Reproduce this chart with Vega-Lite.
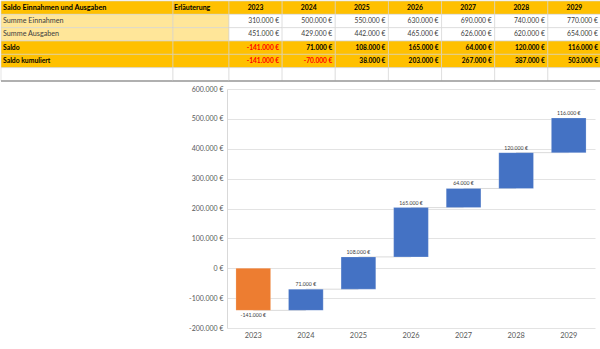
{
  "$schema": "https://vega.github.io/schema/vega-lite/v6.json",
  "padding": 0,
  "background": "white",
  "config": {
    "font": "Lato",
    "view": {"stroke": null},
    "locale": {"number": {"decimal": ",", "thousands": ".", "grouping": [3], "currency": ["", " €"], "minus": "-"}}
  },
  "datasets": {
    "rows": [
      {"row": "h", "label": "Saldo Einnahmen und Ausgaben", "erl": "Erläuterung"},
      {"row": "Summe Einnahmen", "label": "Summe Einnahmen", "erl": ""},
      {"row": "Summe Ausgaben", "label": "Summe Ausgaben", "erl": ""},
      {"row": "Saldo", "label": "Saldo", "erl": ""},
      {"row": "Saldo kumuliert", "label": "Saldo kumuliert", "erl": ""},
      {"row": "b", "label": "", "erl": ""}
    ],
    "cells": [
      {"year": "2023", "row": "h"}, {"year": "2023", "row": "Summe Einnahmen", "value": 310000}, {"year": "2023", "row": "Summe Ausgaben", "value": 451000}, {"year": "2023", "row": "Saldo", "value": -141000}, {"year": "2023", "row": "Saldo kumuliert", "value": -141000}, {"year": "2023", "row": "b"},
      {"year": "2024", "row": "h"}, {"year": "2024", "row": "Summe Einnahmen", "value": 500000}, {"year": "2024", "row": "Summe Ausgaben", "value": 429000}, {"year": "2024", "row": "Saldo", "value": 71000}, {"year": "2024", "row": "Saldo kumuliert", "value": -70000}, {"year": "2024", "row": "b"},
      {"year": "2025", "row": "h"}, {"year": "2025", "row": "Summe Einnahmen", "value": 550000}, {"year": "2025", "row": "Summe Ausgaben", "value": 442000}, {"year": "2025", "row": "Saldo", "value": 108000}, {"year": "2025", "row": "Saldo kumuliert", "value": 38000}, {"year": "2025", "row": "b"},
      {"year": "2026", "row": "h"}, {"year": "2026", "row": "Summe Einnahmen", "value": 630000}, {"year": "2026", "row": "Summe Ausgaben", "value": 465000}, {"year": "2026", "row": "Saldo", "value": 165000}, {"year": "2026", "row": "Saldo kumuliert", "value": 203000}, {"year": "2026", "row": "b"},
      {"year": "2027", "row": "h"}, {"year": "2027", "row": "Summe Einnahmen", "value": 690000}, {"year": "2027", "row": "Summe Ausgaben", "value": 626000}, {"year": "2027", "row": "Saldo", "value": 64000}, {"year": "2027", "row": "Saldo kumuliert", "value": 267000}, {"year": "2027", "row": "b"},
      {"year": "2028", "row": "h"}, {"year": "2028", "row": "Summe Einnahmen", "value": 740000}, {"year": "2028", "row": "Summe Ausgaben", "value": 620000}, {"year": "2028", "row": "Saldo", "value": 120000}, {"year": "2028", "row": "Saldo kumuliert", "value": 387000}, {"year": "2028", "row": "b"},
      {"year": "2029", "row": "h"}, {"year": "2029", "row": "Summe Einnahmen", "value": 770000}, {"year": "2029", "row": "Summe Ausgaben", "value": 654000}, {"year": "2029", "row": "Saldo", "value": 116000}, {"year": "2029", "row": "Saldo kumuliert", "value": 503000}, {"year": "2029", "row": "b"}
    ],
    "wf": [
      {"year": "2023", "start": 0, "end": -141000, "delta": -141000, "next": "2024"},
      {"year": "2024", "start": -141000, "end": -70000, "delta": 71000, "next": "2025"},
      {"year": "2025", "start": -70000, "end": 38000, "delta": 108000, "next": "2026"},
      {"year": "2026", "start": 38000, "end": 203000, "delta": 165000, "next": "2027"},
      {"year": "2027", "start": 203000, "end": 267000, "delta": 64000, "next": "2028"},
      {"year": "2028", "start": 267000, "end": 387000, "delta": 120000, "next": "2029"},
      {"year": "2029", "start": 387000, "end": 503000, "delta": 116000, "next": null}
    ]
  },
  "resolve": {"scale": {"x": "independent", "y": "independent"}},
  "spacing": 3,
  "vconcat": [
    {
      "hconcat": [
        {
          "width": 172,
          "height": 80,
          "data": {"name": "rows"},
          "encoding": {
            "y": {"field": "row", "type": "nominal", "scale": {"domain": ["h", "Summe Einnahmen", "Summe Ausgaben", "Saldo", "Saldo kumuliert", "b"], "paddingInner": 0, "paddingOuter": 0}, "axis": null}
          },
          "layer": [
            {
              "mark": {"type": "rect", "stroke": "#D4D4D4", "strokeWidth": 0.6},
              "encoding": {
                "fill": {"condition": [{"test": "datum.row === 'h' || datum.row === 'Saldo' || datum.row === 'Saldo kumuliert'", "value": "#FFC000"}, {"test": "datum.row === 'b'", "value": "#FFFFFF"}], "value": "#FFE699"}
              }
            },
            {
              "transform": [{"filter": "datum.row === 'h'"}],
              "mark": {"type": "text", "align": "left", "dx": 2, "fontSize": 7.3, "fontWeight": "bold", "color": "#000000"},
              "encoding": {
                "x": {"datum": 0, "type": "quantitative", "scale": {"domain": [0, 1], "nice": false}, "axis": null},
                "text": {"field": "label"}
              }
            },
            {
              "transform": [{"filter": "datum.row === 'Summe Einnahmen' || datum.row === 'Summe Ausgaben'"}],
              "mark": {"type": "text", "align": "left", "dx": 2, "fontSize": 7.2, "color": "#404040"},
              "encoding": {
                "x": {"datum": 0, "type": "quantitative", "scale": {"domain": [0, 1], "nice": false}, "axis": null},
                "text": {"field": "label"}
              }
            },
            {
              "transform": [{"filter": "datum.row === 'Saldo' || datum.row === 'Saldo kumuliert'"}],
              "mark": {"type": "text", "align": "left", "dx": 2, "fontSize": 6.8, "fontWeight": "bold", "color": "#000000"},
              "encoding": {
                "x": {"datum": 0, "type": "quantitative", "scale": {"domain": [0, 1], "nice": false}, "axis": null},
                "text": {"field": "label"}
              }
            },
            {
              "transform": [{"filter": "datum.row === 'b'"}],
              "mark": {"type": "rule", "color": "#9A9A9A", "strokeWidth": 1.6},
              "encoding": {"y": {"field": "row", "type": "nominal", "bandPosition": 1}}
            }
          ]
        },
        {
          "width": 56,
          "height": 80,
          "data": {"name": "rows"},
          "encoding": {
            "y": {"field": "row", "type": "nominal", "scale": {"domain": ["h", "Summe Einnahmen", "Summe Ausgaben", "Saldo", "Saldo kumuliert", "b"], "paddingInner": 0, "paddingOuter": 0}, "axis": null}
          },
          "layer": [
            {
              "mark": {"type": "rect", "stroke": "#D4D4D4", "strokeWidth": 0.6},
              "encoding": {
                "fill": {"condition": [{"test": "datum.row === 'h' || datum.row === 'Saldo' || datum.row === 'Saldo kumuliert'", "value": "#FFC000"}, {"test": "datum.row === 'b'", "value": "#FFFFFF"}], "value": "#FFE699"}
              }
            },
            {
              "transform": [{"filter": "datum.row === 'h'"}],
              "mark": {"type": "text", "align": "left", "dx": 1, "fontSize": 7, "fontWeight": "bold", "color": "#000000"},
              "encoding": {
                "x": {"datum": 0, "type": "quantitative", "scale": {"domain": [0, 1], "nice": false}, "axis": null},
                "text": {"field": "erl"}
              }
            },
            {
              "transform": [{"filter": "datum.row === 'b'"}],
              "mark": {"type": "rule", "color": "#9A9A9A", "strokeWidth": 1.6},
              "encoding": {"y": {"field": "row", "type": "nominal", "bandPosition": 1}}
            }
          ]
        },
        {
          "width": 372,
          "height": 80,
          "data": {"name": "cells"},
          "encoding": {
            "x": {"field": "year", "type": "nominal", "scale": {"paddingInner": 0, "paddingOuter": 0}, "axis": null},
            "y": {"field": "row", "type": "nominal", "scale": {"domain": ["h", "Summe Einnahmen", "Summe Ausgaben", "Saldo", "Saldo kumuliert", "b"], "paddingInner": 0, "paddingOuter": 0}, "axis": null}
          },
          "layer": [
            {
              "mark": {"type": "rect", "stroke": "#D4D4D4", "strokeWidth": 0.6},
              "encoding": {
                "fill": {"condition": {"test": "datum.row === 'h' || datum.row === 'Saldo' || datum.row === 'Saldo kumuliert'", "value": "#FFC000"}, "value": "#FFFFFF"}
              }
            },
            {
              "transform": [{"filter": "datum.row === 'h'"}],
              "mark": {"type": "text", "align": "center", "fontSize": 6.8, "fontWeight": "bold", "color": "#000000"},
              "encoding": {"text": {"field": "year"}}
            },
            {
              "transform": [{"filter": "datum.row === 'Summe Einnahmen' || datum.row === 'Summe Ausgaben'"}],
              "mark": {"type": "text", "align": "right", "dx": -3, "fontSize": 6.8, "color": "#404040"},
              "encoding": {
                "x": {"field": "year", "type": "nominal", "bandPosition": 1},
                "text": {"field": "value", "type": "quantitative", "format": "$,.0f"}
              }
            },
            {
              "transform": [{"filter": "datum.row === 'Saldo' || datum.row === 'Saldo kumuliert'"}],
              "mark": {"type": "text", "align": "right", "dx": -3, "fontSize": 6.6, "fontWeight": "bold"},
              "encoding": {
                "x": {"field": "year", "type": "nominal", "bandPosition": 1},
                "text": {"field": "value", "type": "quantitative", "format": "$,.0f"},
                "color": {"condition": {"test": "datum.value < 0", "value": "#FF0000"}, "value": "#000000"}
              }
            },
            {
              "transform": [{"filter": "datum.row === 'b' && datum.year === '2023'"}],
              "mark": {"type": "rule", "color": "#9A9A9A", "strokeWidth": 1.6},
              "encoding": {
                "y": {"field": "row", "type": "nominal", "bandPosition": 1},
                "x": {"datum": "2023", "type": "nominal", "bandPosition": 0},
                "x2": {"datum": "2029", "bandPosition": 1}
              }
            }
          ]
        }
      ],
      "spacing": 0,
      "bounds": "flush",
      "resolve": {"scale": {"x": "independent", "y": "independent"}}
    },
    {
      "hconcat": [
        {
          "width": 176,
          "height": 239,
          "data": {"values": [{}]},
          "mark": {"type": "rect", "opacity": 0},
          "encoding": {}
        },
        {
          "width": 368,
          "height": 239,
          "data": {"name": "wf"},
          "encoding": {
            "x": {
              "field": "year", "type": "nominal",
              "scale": {"paddingInner": 0.34, "paddingOuter": 0.17},
              "axis": {"title": null, "labelAngle": 0, "ticks": false, "domain": false, "labelFontSize": 7.4, "labelColor": "#595959", "labelPadding": 3}
            }
          },
          "layer": [
            {
              "transform": [{"filter": "datum.next != null"}],
              "mark": {"type": "rule", "color": "#D0D0D0", "strokeWidth": 0.8},
              "encoding": {
                "x2": {"field": "next"},
                "y": {
                  "field": "end", "type": "quantitative",
                  "scale": {"domain": [-200000, 600000], "nice": false, "zero": false},
                  "axis": {"title": null, "values": [-200000, -100000, 0, 100000, 200000, 300000, 400000, 500000, 600000], "format": "$,.0f", "ticks": false, "labelFontSize": 7, "labelColor": "#595959", "labelPadding": 4, "gridColor": "#E3E3E3", "domainColor": "#D9D9D9", "minExtent": 50, "maxExtent": 50}
                }
              }
            },
            {
              "mark": {"type": "bar", "stroke": "#FFFFFF", "strokeWidth": 0.4, "strokeOpacity": 0.5},
              "encoding": {
                "y": {
                  "field": "start", "type": "quantitative",
                  "axis": {"title": null, "values": [-200000, -100000, 0, 100000, 200000, 300000, 400000, 500000, 600000], "format": "$,.0f", "ticks": false, "labelFontSize": 7, "labelColor": "#595959", "labelPadding": 4, "gridColor": "#E3E3E3", "domainColor": "#D9D9D9", "minExtent": 50, "maxExtent": 50}
                },
                "y2": {"field": "end"},
                "color": {"condition": {"test": "datum.delta < 0", "value": "#ED7D31"}, "value": "#4472C4"}
              }
            },
            {
              "transform": [{"filter": "datum.delta >= 0"}],
              "mark": {"type": "text", "baseline": "bottom", "dy": -2, "fontSize": 5.2, "color": "#404040"},
              "encoding": {
                "y": {
                  "field": "end", "type": "quantitative",
                  "axis": {"title": null, "values": [-200000, -100000, 0, 100000, 200000, 300000, 400000, 500000, 600000], "format": "$,.0f", "ticks": false, "labelFontSize": 7, "labelColor": "#595959", "labelPadding": 4, "gridColor": "#E3E3E3", "domainColor": "#D9D9D9", "minExtent": 50, "maxExtent": 50}
                },
                "text": {"field": "delta", "type": "quantitative", "format": "$,.0f"}
              }
            },
            {
              "transform": [{"filter": "datum.delta < 0"}],
              "mark": {"type": "text", "baseline": "top", "dy": 3, "fontSize": 5.2, "color": "#404040"},
              "encoding": {
                "y": {
                  "field": "end", "type": "quantitative",
                  "axis": {"title": null, "values": [-200000, -100000, 0, 100000, 200000, 300000, 400000, 500000, 600000], "format": "$,.0f", "ticks": false, "labelFontSize": 7, "labelColor": "#595959", "labelPadding": 4, "gridColor": "#E3E3E3", "domainColor": "#D9D9D9", "minExtent": 50, "maxExtent": 50}
                },
                "text": {"field": "delta", "type": "quantitative", "format": "$,.0f"}
              }
            }
          ]
        }
      ],
      "spacing": 0
    }
  ]
}
